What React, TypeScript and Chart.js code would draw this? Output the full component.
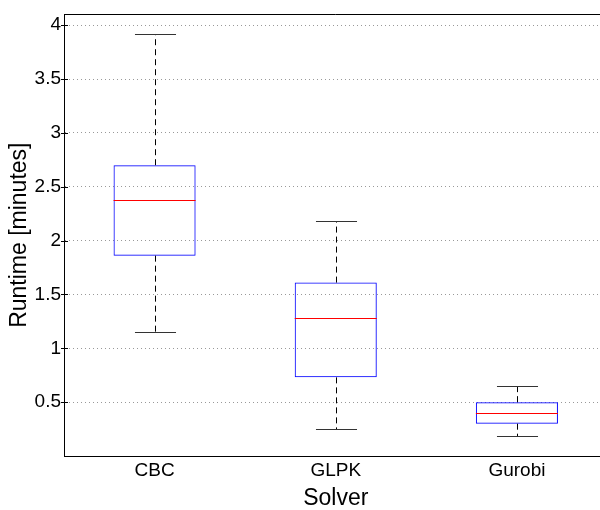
import { useEffect, useRef } from 'react';
import { Chart, registerables } from 'chart.js';
Chart.register(...registerables);

const solvers = ['CBC', 'GLPK', 'Gurobi'];
const whiskerMin = [1.15, 0.25, 0.19];
const q1 = [1.86, 0.73, 0.30];
const median = [2.38, 1.28, 0.40];
const q3 = [2.70, 1.61, 0.50];
const whiskerMax = [3.92, 2.18, 0.65];
const yTicks = [0.5, 1, 1.5, 2, 2.5, 3, 3.5, 4];

const FONT = "'Liberation Sans', Arial, Helvetica, sans-serif";

const boxPlugin = {
  id: 'boxExtras',
  afterDatasetsDraw(chart: any) {
    const { ctx, chartArea, scales } = chart;
    const x = scales.x;
    const y = scales.y;
    ctx.save();
    ctx.lineWidth = 1;
    // top frame line
    ctx.strokeStyle = '#000';
    ctx.beginPath();
    ctx.moveTo(chartArea.left, Math.round(chartArea.top) + 0.5);
    ctx.lineTo(chartArea.right, Math.round(chartArea.top) + 0.5);
    ctx.stroke();
    // y tick marks crossing the axis
    yTicks.forEach((v) => {
      const py = Math.round(y.getPixelForValue(v)) + 0.5;
      ctx.beginPath();
      ctx.moveTo(chartArea.left - 3, py);
      ctx.lineTo(chartArea.left + 4, py);
      ctx.stroke();
    });
    const meta = chart.getDatasetMeta(0);
    solvers.forEach((_, i) => {
      const cx = Math.round(x.getPixelForValue(i)) + 0.5;
      const bw = meta.data[i].width;
      const capHalf = bw / 4;
      const yMin = Math.round(y.getPixelForValue(whiskerMin[i])) + 0.5;
      const yMax = Math.round(y.getPixelForValue(whiskerMax[i])) + 0.5;
      const yQ1 = y.getPixelForValue(q1[i]);
      const yQ3 = y.getPixelForValue(q3[i]);
      const yMed = Math.round(y.getPixelForValue(median[i])) + 0.5;
      // whiskers (dashed)
      ctx.strokeStyle = '#000';
      ctx.setLineDash([6, 4]);
      ctx.beginPath();
      ctx.moveTo(cx, yQ3);
      ctx.lineTo(cx, yMax);
      ctx.moveTo(cx, yQ1);
      ctx.lineTo(cx, yMin);
      ctx.stroke();
      ctx.setLineDash([]);
      // caps
      ctx.strokeStyle = '#333333';
      ctx.beginPath();
      ctx.moveTo(cx - capHalf, yMax);
      ctx.lineTo(cx + capHalf, yMax);
      ctx.moveTo(cx - capHalf, yMin);
      ctx.lineTo(cx + capHalf, yMin);
      ctx.stroke();
    });
    // medians
    solvers.forEach((_, i) => {
      const cx = x.getPixelForValue(i);
      const bw = meta.data[i].width;
      const yMed = Math.round(y.getPixelForValue(median[i])) + 0.5;
      ctx.strokeStyle = 'rgb(255,0,0)';
      ctx.lineWidth = 1.2;
      ctx.beginPath();
      ctx.moveTo(cx - bw / 2, yMed);
      ctx.lineTo(cx + bw / 2, yMed);
      ctx.stroke();
    });
    ctx.restore();
  },
};

export default function App() {
  const ref = useRef<HTMLCanvasElement>(null);
  useEffect(() => {
    if (!ref.current) return;
    const chart = new Chart(ref.current, {
      type: 'bar',
      data: {
        labels: solvers,
        datasets: [
          {
            data: solvers.map((_, i) => [q1[i], q3[i]]) as any,
            backgroundColor: 'rgba(0,0,0,0)',
            borderColor: '#0000ff',
            borderWidth: 1,
            borderSkipped: false,
            categoryPercentage: 1,
            barPercentage: 0.453,
          },
        ],
      },
      options: {
        responsive: false,
        animation: false,
        events: [],
        devicePixelRatio: 1,
        layout: { padding: { top: 12, right: 12.5, left: 0, bottom: 0 } },
        plugins: { legend: { display: false }, tooltip: { enabled: false } },
        scales: {
          x: {
            grid: { display: false, drawTicks: false },
            border: { display: true, color: '#000', width: 1 },
            ticks: { color: '#000', font: { family: FONT, size: 19 }, padding: 3 },
            title: {
              display: true,
              text: 'Solver',
              color: '#000',
              font: { family: FONT, size: 23 },
              padding: { top: 0, bottom: -2 },
            },
            afterFit: (s: any) => {
              s.height = 54;
            },
          },
          y: {
            min: 0,
            max: 4.1,
            afterBuildTicks: (s: any) => {
              s.ticks = yTicks.map((v) => ({ value: v }));
            },
            grid: {
              color: 'rgba(0,0,0,0.4)',
              drawTicks: false,
            },
            border: { display: true, color: '#000', width: 1, dash: [1, 3] },
            ticks: {
              color: '#000',
              font: { family: FONT, size: 19 },
              padding: 3,
              callback: (v: any) => String(v),
            },
            title: {
              display: true,
              text: 'Runtime [minutes]',
              color: '#000',
              font: { family: FONT, size: 23 },
              padding: { top: 6, bottom: 0 },
            },
            afterFit: (s: any) => {
              s.width = 64;
            },
          },
        },
      },
      plugins: [boxPlugin],
    });
    return () => chart.destroy();
  }, []);
  return (
    <div
      style={{
        position: 'fixed',
        left: 0,
        top: 0,
        width: 600,
        height: 510,
        overflow: 'hidden',
        background: '#fff',
      }}
    >
      <canvas ref={ref} width={620} height={510} style={{ display: 'block' }} />
    </div>
  );
}
